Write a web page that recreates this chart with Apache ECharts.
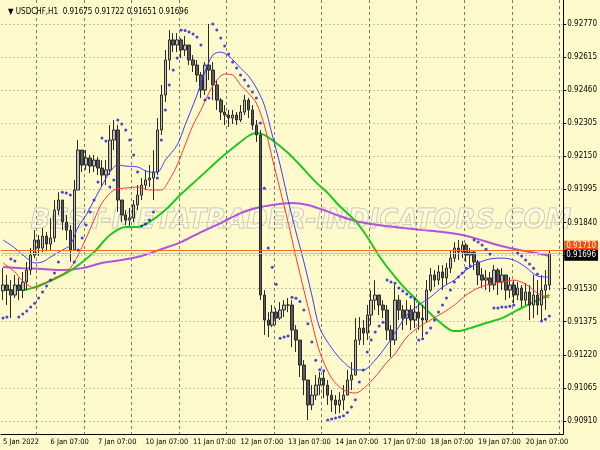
<!DOCTYPE html>
<html>
<head>
<meta charset="utf-8">
<title>USDCHF,H1</title>
<script src="https://cdn.jsdelivr.net/npm/echarts@6/dist/echarts.min.js"></script>
<style>
  html, body { margin: 0; padding: 0; background: #fefacb; }
  #chart { width: 600px; height: 450px; }
</style>
</head>
<body>
<div id="chart"></div>
<script>
// USDCHF H1 from 5 Jan 2022 07:00, one slot per 2 hours, prices in pips (9160.5 = 0.91605)
var dayLabels = ['5 Jan 2022', '6 Jan 07:00', '7 Jan 07:00', '10 Jan 07:00', '11 Jan 07:00', '12 Jan 07:00',
                 '13 Jan 07:00', '14 Jan 07:00', '17 Jan 07:00', '18 Jan 07:00', '19 Jan 07:00', '20 Jan 07:00'];
var priceTicks = [0.90910, 0.91065, 0.91220, 0.91375, 0.91530, 0.91685, 0.91840,
                  0.91995, 0.92150, 0.92305, 0.92460, 0.92615, 0.92770];

var firstOpen = 9152.0;
var closes = [
  9154.7, 9152.3, 9150.0, 9154.7, 9152.3, 9156.1, 9161.7, 9168.7, 9175.8, 9172.0,
  9177.6, 9173.9, 9176.7, 9189.8, 9194.5, 9184.2, 9180.4, 9171.1, 9199.2, 9217.9,
  9210.9, 9214.2, 9210.4, 9213.2, 9209.5, 9206.2, 9208.6, 9222.6, 9227.3, 9194.5,
  9187.5, 9185.1, 9186.1, 9192.2, 9196.8, 9201.5, 9203.9, 9204.8, 9207.6, 9227.3,
  9243.7, 9260.1, 9269.5, 9267.1, 9269.5, 9264.8, 9267.1, 9260.1, 9257.7, 9253.1,
  9246.0, 9257.7, 9255.4, 9248.4, 9241.3, 9235.7, 9234.3, 9232.9, 9234.3, 9232.0,
  9235.7, 9241.3, 9236.7, 9229.6, 9225.0, 9150.0, 9138.3, 9135.9, 9142.0, 9139.2,
  9143.0, 9145.3, 9145.3, 9133.6, 9128.9, 9117.2, 9110.2, 9098.5, 9103.1, 9107.8,
  9111.1, 9107.8, 9103.1, 9100.8, 9098.5, 9100.8, 9103.1, 9110.2, 9112.5, 9128.9,
  9134.5, 9132.2, 9140.6, 9147.6, 9150.0, 9145.3, 9143.0, 9133.6, 9128.9, 9147.6,
  9143.0, 9139.2, 9143.0, 9138.3, 9142.0, 9139.2, 9138.3, 9152.3, 9159.4, 9157.0,
  9160.8, 9158.0, 9162.6, 9167.3, 9172.0, 9170.1, 9173.4, 9168.7, 9170.1, 9165.5,
  9159.4, 9157.0, 9158.0, 9154.7, 9161.7, 9156.1, 9159.4, 9152.3, 9154.7, 9150.0,
  9153.3, 9147.6, 9151.4, 9145.3, 9150.0, 9145.3, 9152.3, 9154.7, 9169.6
];
var lows = [
  9147.6, 9145.3, 9139.2, 9148.6, 9147.6, 9148.6, 9152.3, 9159.4, 9167.3, 9168.3,
  9170.1, 9171.1, 9171.1, 9174.8, 9187.5, 9180.4, 9175.8, 9165.5, 9171.1, 9199.2,
  9207.6, 9208.6, 9207.1, 9207.6, 9206.2, 9200.6, 9201.5, 9206.2, 9217.9, 9188.9,
  9184.2, 9182.8, 9182.3, 9184.2, 9189.8, 9194.5, 9199.2, 9200.6, 9194.5, 9206.2,
  9225.0, 9240.4, 9255.4, 9263.8, 9263.8, 9261.0, 9262.0, 9257.7, 9254.5, 9249.8,
  9242.3, 9243.7, 9250.7, 9241.3, 9236.7, 9232.0, 9229.6, 9228.7, 9230.1, 9229.6,
  9231.0, 9234.3, 9232.9, 9227.3, 9221.7, 9147.6, 9131.3, 9130.3, 9135.0, 9135.9,
  9138.3, 9139.7, 9142.0, 9125.6, 9123.3, 9111.6, 9103.1, 9091.4, 9096.1, 9100.8,
  9103.1, 9101.7, 9098.5, 9095.2, 9094.2, 9094.7, 9096.1, 9103.1, 9105.5, 9112.5,
  9126.6, 9126.6, 9128.9, 9135.9, 9143.0, 9140.6, 9139.2, 9128.9, 9120.9, 9126.6,
  9138.3, 9133.6, 9135.9, 9133.6, 9134.5, 9133.6, 9130.3, 9137.3, 9151.4, 9153.7,
  9154.7, 9152.3, 9154.7, 9160.3, 9165.5, 9166.4, 9167.3, 9165.5, 9164.0, 9161.7,
  9154.7, 9153.3, 9152.3, 9151.4, 9152.3, 9150.0, 9152.3, 9147.6, 9148.6, 9146.2,
  9147.6, 9144.4, 9145.3, 9138.3, 9139.2, 9140.6, 9138.3, 9143.0, 9152.3
];
var highs = [
  9162.6, 9159.4, 9157.0, 9159.4, 9158.0, 9160.8, 9165.5, 9172.0, 9180.4, 9178.1,
  9181.4, 9179.5, 9186.1, 9194.5, 9198.2, 9192.2, 9187.5, 9182.8, 9203.9, 9222.6,
  9217.9, 9217.9, 9215.6, 9215.6, 9214.6, 9213.2, 9213.2, 9229.6, 9232.0, 9229.6,
  9192.2, 9189.8, 9190.8, 9194.5, 9201.5, 9204.8, 9208.6, 9210.9, 9217.9, 9232.9,
  9248.4, 9264.8, 9274.1, 9272.7, 9272.7, 9270.4, 9271.3, 9267.1, 9262.4, 9260.1,
  9254.5, 9259.2, 9277.0, 9259.2, 9250.7, 9242.3, 9239.0, 9236.7, 9236.7, 9235.7,
  9239.0, 9243.7, 9242.3, 9239.0, 9232.0, 9227.3, 9152.3, 9142.0, 9145.3, 9143.9,
  9146.7, 9147.6, 9148.6, 9147.6, 9135.9, 9128.9, 9119.5, 9110.2, 9107.8, 9112.5,
  9113.9, 9113.9, 9110.2, 9105.5, 9103.1, 9104.5, 9107.8, 9114.9, 9118.6, 9139.2,
  9139.7, 9138.3, 9145.3, 9152.3, 9157.0, 9150.0, 9147.6, 9145.3, 9135.9, 9154.7,
  9150.0, 9145.3, 9147.6, 9145.3, 9147.6, 9146.2, 9145.3, 9157.0, 9162.6, 9161.7,
  9164.0, 9164.0, 9165.0, 9171.1, 9174.8, 9175.8, 9175.3, 9174.4, 9172.0, 9171.1,
  9166.4, 9162.6, 9161.7, 9160.8, 9164.0, 9162.6, 9162.6, 9159.4, 9158.4, 9157.0,
  9156.1, 9154.7, 9155.6, 9154.7, 9159.4, 9157.0, 9159.4, 9161.7, 9171.1
];
// parabolic SAR, one dot per slot
var sar = [
  9139.2, 9139.7, 9166.9, 9165.9, 9139.7, 9141.1, 9142.5, 9144.4, 9146.2, 9148.6,
  9151.4, 9154.2, 9157.0, 9160.3, 9165.5, 9198.2, 9197.8, 9196.8, 9165.5, 9171.1,
  9176.7, 9182.8, 9188.9, 9194.5, 9202.9, 9223.5, 9222.1, 9200.6, 9203.9, 9232.0,
  9230.1, 9227.3, 9222.6, 9215.6, 9207.6, 9182.3, 9183.3, 9185.1, 9188.9, 9204.8,
  9222.6, 9236.7, 9248.4, 9255.4, 9261.0, 9274.1, 9273.9, 9273.2, 9272.3, 9270.9,
  9267.1, 9241.3, 9242.3, 9277.0, 9274.1, 9270.4, 9266.6, 9262.9, 9259.2, 9256.3,
  9253.1, 9250.7, 9247.9, 9245.1, 9242.3, 9230.6, 9200.0, 9172.0, 9163.0, 9155.0,
  9129.8, 9130.3, 9130.8, 9149.0, 9148.5, 9147.0, 9143.0, 9136.5, 9128.0, 9119.5,
  9115.0, 9114.5, 9091.4, 9091.9, 9092.4, 9092.9, 9093.5, 9095.0, 9097.5, 9101.0,
  9109.2, 9114.9, 9123.3, 9128.9, 9132.7, 9135.5, 9137.3, 9157.0, 9156.1, 9155.5,
  9153.3, 9151.9, 9150.5, 9149.1, 9148.1, 9128.9, 9129.5, 9132.2, 9134.5, 9138.3,
  9142.0, 9145.3, 9148.6, 9152.3, 9156.1, 9158.4, 9160.3, 9162.6, 9163.6, 9175.8,
  9174.8, 9173.4, 9171.5, 9169.2, 9143.9, 9143.9, 9144.4, 9144.4, 9144.8, 9145.3,
  9169.7, 9168.3, 9166.4, 9164.5, 9162.6, 9159.8, 9137.8, 9138.7, 9140.2
];
// moving averages: [slot, pips]
var maBlue = [[0,9175.8],[3,9172.0],[6,9167.3],[8,9165.0],[10,9165.5],[12,9167.8],[15,9171.1],[17,9173.4],
  [19,9181.9],[21,9187.5],[24,9197.8],[27,9207.6],[29,9210.9],[31,9210.4],[34,9210.0],[37,9207.6],[39,9207.6],
  [41,9213.2],[44,9220.3],[46,9229.6],[49,9243.7],[51,9254.5],[53,9262.4],[55,9263.8],[57,9262.0],[60,9256.3],
  [62,9252.6],[64,9247.0],[66,9239.0],[68,9225.0],[70,9210.9],[72,9194.5],[74,9179.5],[76,9165.5],[78,9150.0],
  [80,9134.5],[83,9125.2],[86,9118.6],[89,9114.9],[91,9114.9],[94,9119.5],[97,9126.6],[99,9132.2],[102,9140.6],
  [105,9145.3],[108,9149.1],[111,9153.7],[114,9157.0],[117,9161.7],[120,9165.0],[123,9166.9],[126,9167.3],
  [129,9166.4],[132,9163.1],[135,9158.9],[138,9158.4]];
var maRed = [[0,9165.0],[3,9160.8],[5,9156.5],[8,9153.3],[10,9154.7],[12,9157.0],[15,9159.8],[17,9162.6],
  [19,9168.7],[21,9176.7],[23,9185.1],[25,9193.1],[28,9199.2],[31,9200.1],[34,9200.6],[37,9199.2],[40,9199.2],
  [42,9203.9],[44,9210.9],[46,9220.3],[48,9229.6],[50,9236.7],[52,9244.6],[54,9250.7],[56,9253.5],[58,9253.1],
  [60,9248.4],[62,9244.6],[64,9239.9],[66,9229.6],[68,9214.2],[70,9199.2],[72,9184.2],[74,9167.8],[76,9152.3],
  [78,9137.3],[80,9123.3],[83,9111.1],[86,9105.5],[89,9104.1],[92,9107.8],[95,9113.9],[97,9118.6],[99,9122.4],
  [102,9130.3],[105,9135.0],[108,9138.3],[111,9141.6],[114,9145.3],[117,9150.0],[120,9153.3],[123,9155.1],
  [126,9156.1],[129,9157.0],[132,9155.1],[135,9150.9],[138,9148.6]];
var maGreen = [[0,9152.3],[5,9152.3],[8,9153.7],[13,9157.5],[18,9162.6],[23,9170.1],[27,9178.1],[31,9181.9],
  [34,9181.9],[37,9184.2],[41,9189.8],[45,9197.3],[50,9205.7],[55,9214.2],[59,9220.3],[62,9224.5],[64,9225.9],
  [66,9225.0],[69,9221.2],[72,9216.5],[75,9210.9],[79,9202.9],[82,9197.8],[85,9191.7],[89,9184.7],[92,9177.2],
  [95,9168.3],[98,9160.8],[101,9154.2],[104,9148.6],[107,9143.0],[110,9137.8],[113,9133.6],[115,9133.1],
  [118,9134.5],[122,9136.9],[126,9139.2],[130,9143.0],[134,9146.7],[138,9150.0]];
var maPurple = [[0,9163.1],[5,9162.6],[10,9162.2],[15,9161.7],[20,9162.6],[25,9165.0],[30,9166.4],[35,9168.3],
  [40,9171.5],[45,9174.8],[50,9179.5],[55,9183.7],[60,9188.4],[64,9190.8],[68,9192.2],[73,9193.1],[77,9192.2],
  [81,9189.8],[85,9187.0],[89,9184.7],[93,9183.3],[97,9182.3],[101,9181.4],[106,9180.4],[111,9179.5],
  [116,9178.1],[120,9176.2],[124,9173.9],[128,9172.0],[132,9170.6],[136,9169.2],[138,9168.3]];

var levelLine = 0.91710;
var bidPrice = 0.91696;
var header = '\u25BC USDCHF,H1  0.91675 0.91722 0.91651 0.91696';

var font = '"Liberation Sans Narrow", "DejaVu Sans Condensed", sans-serif';
function toPrice(p) { return p / 10000; }

var slots = [];
for (var i = 0; i < closes.length + 3; i++) slots.push(String(i));

var candles = closes.map(function (c, i) {
  var o = i === 0 ? firstOpen : closes[i - 1];
  return [o, c, Math.min(lows[i], o, c), Math.max(highs[i], o, c)].map(toPrice);
});
function pts(arr) { return arr.map(function (d) { return [d[0], toPrice(d[1])]; }); }

function priceTag(v, bg, lineColor, dy) {
  return {
    yAxis: v,
    lineStyle: { color: lineColor, type: 'solid', width: 1 },
    label: { show: true, position: 'end', distance: 1, offset: [0, dy], formatter: v.toFixed(5), color: '#fff',
             backgroundColor: bg, padding: [2, 2, 1, 2], fontSize: 8, fontFamily: font }
  };
}

var chart = echarts.init(document.getElementById('chart'));
chart.setOption({
  animation: false,
  backgroundColor: '#fefacb',
  title: {
    text: header, left: 3, top: 3,
    textStyle: { fontSize: 8, fontWeight: 'normal', color: '#000', fontFamily: font }
  },
  graphic: [{
    type: 'text', left: 30, top: 208, z: 0, silent: true,
    style: {
      text: 'BEST-METATRADER-INDICATORS.COM',
      font: 'italic bold 26px "DejaVu Sans"',
      fill: 'rgba(255,255,255,0.3)', stroke: '#c4c2b0', lineWidth: 1
    }
  }],
  grid: { left: 0, top: 0, width: 568, height: 434 },
  xAxis: {
    type: 'category', data: slots, boundaryGap: true,
    axisLine: { lineStyle: { color: '#000' } },
    axisTick: {
      alignWithLabel: true, length: 3, lineStyle: { color: '#000' },
      interval: function (i) { return i % 12 === 0; }
    },
    axisLabel: {
      interval: function (i) { return i % 12 === 0 && i / 12 < dayLabels.length; },
      formatter: function (v, i) { return dayLabels[i / 12] || ''; },
      align: 'left', margin: 4, fontSize: 7.5, color: '#000', fontFamily: font
    },
    splitLine: {
      show: true, interval: function (i) { return i % 12 === 9; },
      lineStyle: { color: '#7a7a70', type: [3, 3], width: 1 }
    }
  },
  yAxis: {
    type: 'value', position: 'right', min: 0.90849, max: 0.92882,
    axisLine: { show: true, lineStyle: { color: '#000' } },
    axisTick: { show: true, length: 3, customValues: priceTicks, lineStyle: { color: '#000' } },
    axisLabel: {
      customValues: priceTicks, margin: 4, fontSize: 8, color: '#000', fontFamily: font,
      formatter: function (v) { return v.toFixed(5); }
    },
    splitLine: { show: true, lineStyle: { color: '#c9c5a8', type: [2, 2], width: 1 } }
  },
  series: [
    { name: 'purple', type: 'line', data: pts(maPurple), smooth: 0.3, showSymbol: false,
      lineStyle: { color: '#b451dd', width: 2 }, z: 2 },
    { name: 'green', type: 'line', data: pts(maGreen), smooth: 0.3, showSymbol: false,
      lineStyle: { color: '#1ec81e', width: 2 }, z: 2 },
    {
      name: 'USDCHF', type: 'candlestick', data: candles, barWidth: 3, z: 3,
      itemStyle: { color: '#c2c2b8', color0: '#5a5a5a', borderColor: '#2a2a2a', borderColor0: '#2a2a2a', borderWidth: 1 }
    },
    { name: 'blue', type: 'line', data: pts(maBlue), smooth: 0.3, showSymbol: false,
      lineStyle: { color: '#3c3cff', width: 1 }, z: 4 },
    { name: 'red', type: 'line', data: pts(maRed), smooth: 0.3, showSymbol: false,
      lineStyle: { color: '#ff3a3a', width: 1 }, z: 4 },
    { name: 'SAR', type: 'scatter', data: sar.map(function (v, i) { return [i, toPrice(v)]; }),
      symbol: 'circle', symbolSize: 3, itemStyle: { color: '#1818d8' }, z: 5 },
    { name: 'level', type: 'line', data: [], z: 6,
      markLine: {
        symbol: 'none', silent: true, animation: false, precision: 5,
        data: [
          priceTag(levelLine, '#ff4a0a', '#ff6a1a', -4),
          priceTag(bidPrice, '#000', '#c0c0b8', 2)
        ]
      }
    }
  ]
});
</script>
</body>
</html>
